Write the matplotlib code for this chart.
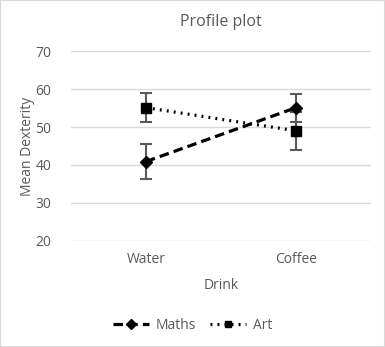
import matplotlib.pyplot as plt
from matplotlib.lines import Line2D

drinks = ['Water', 'Coffee']
maths = [40.9, 55.1]
maths_err = [4.7, 3.7]
art = [55.1, 49.0]
art_err = [3.8, 5.0]

plt.rcParams['font.family'] = ['Open Sans', 'DejaVu Sans']
txt = '#595959'
dash = (0, (3, 1.6))
dots = (0, (0.6, 1.6))

fig = plt.figure(figsize=(3.85, 3.47), dpi=100)
ax = fig.add_axes([0.184, 0.3055, 0.78, 0.5475])

x = range(len(drinks))
ax.errorbar(x, maths, yerr=maths_err, color='black', ls=dash, lw=2.3,
            marker='D', ms=6.5, ecolor='#595959', elinewidth=1.5, capsize=4, capthick=1.5,
            zorder=3)
ax.errorbar(x, art, yerr=art_err, color='black', ls=dots, lw=2.3,
            marker='s', ms=6.5, ecolor='#595959', elinewidth=1.5, capsize=4, capthick=1.5,
            zorder=3)

ax.set_xlim(-0.5, 1.5)
ax.set_ylim(20, 70)
ax.set_yticks(range(20, 71, 10))
ax.set_xticks(list(x))
ax.set_xticklabels(drinks)
ax.grid(axis='y', color='#d9d9d9', lw=1)
ax.set_axisbelow(True)
for s in ax.spines.values():
    s.set_visible(False)
ax.tick_params(length=0, colors=txt, labelsize=10, pad=8)
ax.tick_params(axis='y', pad=14)

ax.set_title('Profile plot', color=txt, fontsize=11.5, pad=18)
ax.set_xlabel('Drink', color=txt, fontsize=10, labelpad=8)
ax.set_ylabel('Mean Dexterity', color=txt, fontsize=10, labelpad=0)

handles = [Line2D([], [], color='black', ls=dash, lw=2.3, marker='D', ms=5),
           Line2D([], [], color='black', ls=dots, lw=2.3, marker='s', ms=5)]
leg = fig.legend(handles, ['Maths', 'Art'], loc='center', bbox_to_anchor=(0.5, 0.063),
                 ncol=2, frameon=False, fontsize=10, handlelength=2.6,
                 columnspacing=1.0, handletextpad=0.5)
for t in leg.get_texts():
    t.set_color(txt)

fig.patches.append(plt.Rectangle((0, 0), 1, 1, transform=fig.transFigure,
                                 fill=False, edgecolor='#d9d9d9', lw=1.5))
fig.savefig('out.png', dpi=100)
